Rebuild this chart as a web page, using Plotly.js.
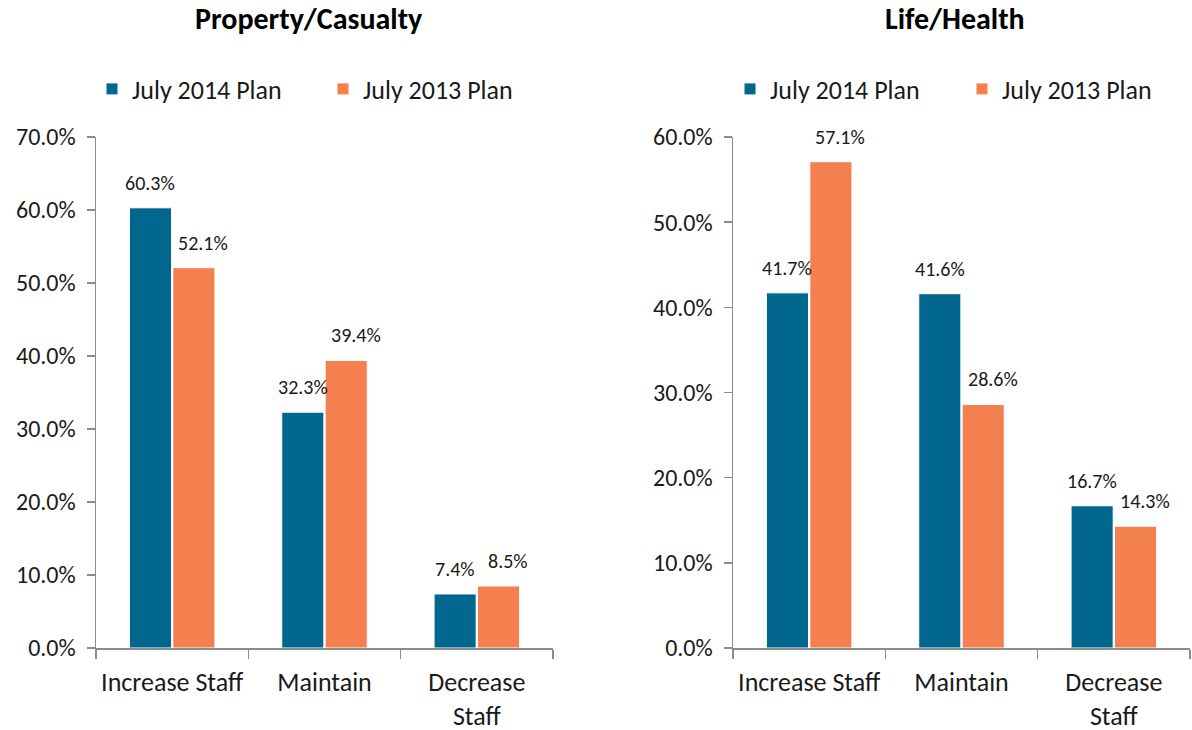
<!DOCTYPE html>
<html><head><meta charset="utf-8">
<script src="https://cdn.plot.ly/plotly-3.0.1.min.js"></script>
<style>html,body{margin:0;padding:0;background:#fff}#c{width:1192px;height:730px}</style>
</head><body><div id="c"></div>
<script>
const categories = ['Increase Staff', 'Maintain', 'Decrease<br>Staff'];
const seriesNames = ['July 2014 Plan', 'July 2013 Plan'];
const pc2014 = [60.3, 32.3, 7.4];
const pc2013 = [52.1, 39.4, 8.5];
const lh2014 = [41.7, 41.6, 16.7];
const lh2013 = [57.1, 28.6, 14.3];
const panelTitles = ['Property/Casualty', 'Life/Health'];

const BLUE = '#02678F', ORANGE = '#F4804F';
const FONT = 'Carlito, Calibri, Lato, sans-serif';

function bar(x, y, name, color, xa, ya, leg) {
  return {type:'bar', x:x, y:y, name:name, xaxis:xa, yaxis:ya, legend:leg,
    marker:{color:color, line:{color:'#ffffff', width:1}}, hoverinfo:'skip'};
}
const data = [
  bar(categories, pc2014, seriesNames[0], BLUE, 'x', 'y', 'legend'),
  bar(categories, pc2013, seriesNames[1], ORANGE, 'x', 'y', 'legend'),
  bar(categories, lh2014, seriesNames[0], BLUE, 'x2', 'y2', 'legend2'),
  bar(categories, lh2013, seriesNames[1], ORANGE, 'x2', 'y2', 'legend2')
];

const ann = [];
function labels(vals, xr, yr, shift) {
  vals.forEach((v, i) => ann.push({x: categories[i], y: v, xref: xr, yref: yr,
    text: v.toFixed(1) + '%', showarrow: false, xshift: shift, yshift: 25,
    yanchor: 'middle', font: {family: FONT, size: 20, color: '#1a1a1a'}}));
}
labels(pc2014, 'x', 'y', -22);
labels(pc2013, 'x', 'y', 31);
labels(lh2014, 'x2', 'y2', -22);
labels(lh2013, 'x2', 'y2', 31);
ann.push({text: '<b>' + panelTitles[0] + '</b>', xref: 'paper', yref: 'paper', x: 309/1192, y: (730-18)/730,
  showarrow: false, xanchor: 'center', yanchor: 'middle', font: {family: FONT, size: 30, color: '#000'}});
ann.push({text: '<b>' + panelTitles[1] + '</b>', xref: 'paper', yref: 'paper', x: 955/1192, y: (730-18)/730,
  showarrow: false, xanchor: 'center', yanchor: 'middle', font: {family: FONT, size: 30, color: '#000'}});

const xax = (dom) => ({domain: dom, type: 'category', showline: true, linecolor: '#8c8c8c', linewidth: 1.5,
  ticks: 'outside', tickson: 'boundaries', ticklen: 9, tickcolor: '#8c8c8c', tickwidth: 1.5, ticklabelstandoff: 10,
  tickfont: {family: FONT, size: 26, color: '#1a1a1a'}, automargin: false, fixedrange: true, showgrid: false});
const yax = (max, anchor) => ({domain: [82/730, 593/730], range: [0, max], dtick: 10, tickformat: '.1f', ticksuffix: '%',
  showline: true, linecolor: '#8c8c8c', linewidth: 1.5, ticks: 'outside', ticklen: 8, tickcolor: '#8c8c8c', tickwidth: 1.5,
  showgrid: false, zeroline: false, tickfont: {family: FONT, size: 24, color: '#1a1a1a'}, automargin: false,
  anchor: anchor, ticklabelstandoff: 6});

const legFont = {family: FONT, size: 26, color: '#1a1a1a'};
const layout = {
  width: 1192, height: 730, margin: {l: 0, r: 0, t: 0, b: 0, autoexpand: false}, paper_bgcolor: '#fff', plot_bgcolor: '#fff',
  barmode: 'group', bargap: 0.43, bargroupgap: 0.03, showlegend: true,
  xaxis: xax([96/1192, 553/1192]), yaxis: yax(70, 'x'),
  xaxis2: xax([733/1192, 1190/1192]), yaxis2: yax(60, 'x2'),
  legend: {orientation: 'h', x: 92/1192, y: (730-89)/730, xanchor: 'left', yanchor: 'middle', font: legFont,
    entrywidth: 186, entrywidthmode: 'pixels', itemwidth: 30, bgcolor: 'rgba(0,0,0,0)'},
  legend2: {orientation: 'h', x: 730/1192, y: (730-89)/730, xanchor: 'left', yanchor: 'middle', font: legFont,
    entrywidth: 187, entrywidthmode: 'pixels', itemwidth: 30, bgcolor: 'rgba(0,0,0,0)'},
  annotations: ann
};
Plotly.newPlot('c', data, layout, {displayModeBar: false, staticPlot: true});
</script></body></html>
